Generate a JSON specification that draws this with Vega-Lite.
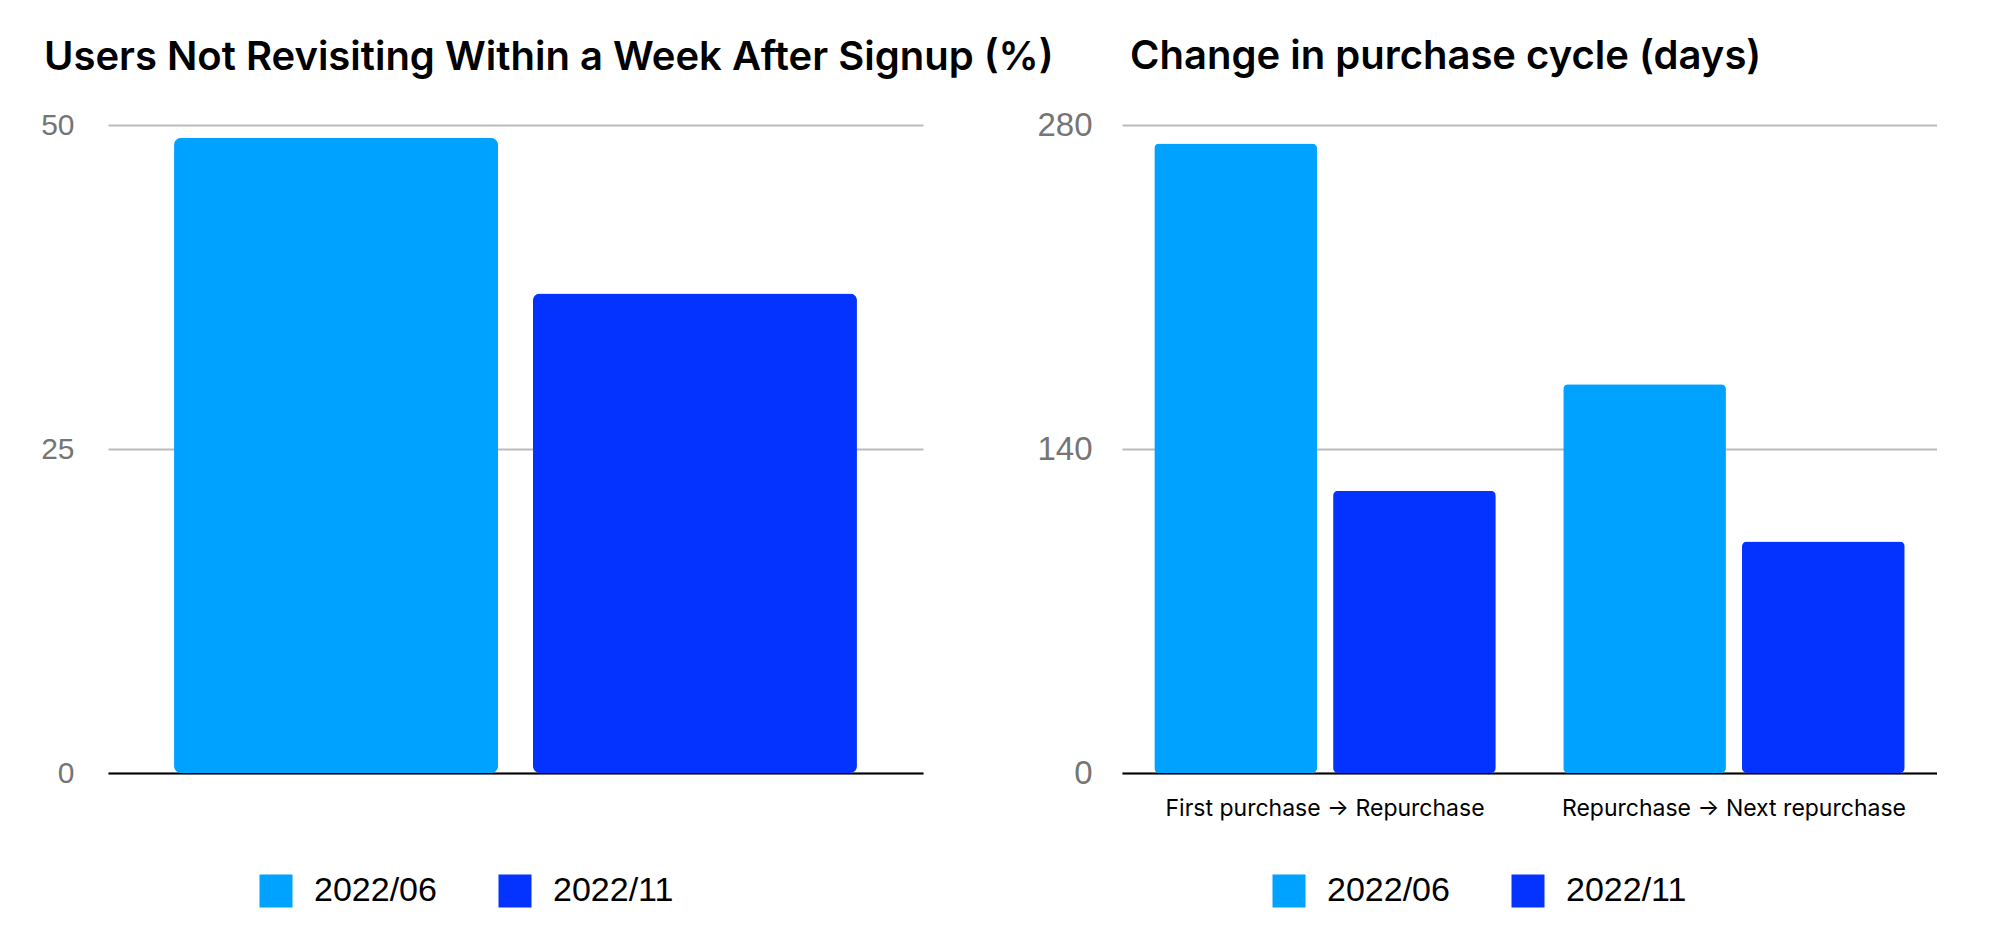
{
  "$schema": "https://vega.github.io/schema/vega-lite/v6.json",
  "background": "white",
  "padding": {"left": 40, "top": 37, "right": 0, "bottom": 0},
  "bounds": "flush",
  "spacing": 199,
  "config": {
    "view": {"stroke": null},
    "axisY": {"domain": false, "ticks": false, "tickSize": 0, "gridColor": "#BBBBBB", "gridWidth": 2, "labelFont": "Liberation Sans", "labelColor": "#757575", "title": null},
    "axisX": {"ticks": false, "tickSize": 0, "domainColor": "#000000", "domainWidth": 2, "grid": false, "title": null, "zindex": 1},
    "legend": {"orient": "none", "direction": "horizontal", "title": null, "symbolType": "square", "symbolSize": 1089, "symbolStrokeWidth": 0, "labelFont": "Liberation Sans", "labelFontSize": 34, "labelColor": "#000000", "labelOffset": 21, "columnPadding": 61, "padding": 0, "labelLimit": 400},
    "title": {"anchor": "start", "frame": "group", "font": "Inter", "fontSize": 40, "fontWeight": 600, "color": "#000000", "baseline": "alphabetic", "offset": 32}
  },
  "datasets": {
    "retention": [
      {"period": "2022/06", "value": 49},
      {"period": "2022/11", "value": 37}
    ],
    "cycle": [
      {"stage": "First purchase → Repurchase", "period": "2022/06", "days": 272},
      {"stage": "First purchase → Repurchase", "period": "2022/11", "days": 122},
      {"stage": "Repurchase → Next repurchase", "period": "2022/06", "days": 168},
      {"stage": "Repurchase → Next repurchase", "period": "2022/11", "days": 100}
    ]
  },
  "resolve": {"scale": {"color": "independent"}, "legend": {"color": "independent"}},
  "hconcat": [
    {
      "data": {"name": "retention"},
      "width": 815,
      "height": 648,
      "title": {"text": "Users Not Revisiting Within a Week After Signup (%)", "dx": -64},
      "mark": {"type": "bar", "cornerRadius": 7},
      "encoding": {
        "x": {"field": "period", "type": "nominal", "scale": {"paddingInner": 0.0975, "paddingOuter": 0.184}, "axis": {"labels": false}},
        "y": {"field": "value", "type": "quantitative", "scale": {"domain": [0, 50]}, "axis": {"values": [0, 25, 50], "labelFontSize": 30, "labelPadding": 34}},
        "color": {"field": "period", "type": "nominal", "scale": {"range": ["#00A2FF", "#0433FF"]}, "legend": {"legendX": 151, "legendY": 749}}
      }
    },
    {
      "data": {"name": "cycle"},
      "width": 815,
      "height": 648,
      "title": {"text": "Change in purchase cycle (days)", "dx": 8},
      "mark": {"type": "bar", "cornerRadius": 5},
      "encoding": {
        "x": {"field": "stage", "type": "nominal", "sort": null, "scale": {"paddingInner": 0.165, "paddingOuter": 0.079}, "axis": {"labelAngle": 0, "labelFont": "Inter", "labelFontSize": 23, "labelColor": "#000000", "labelPadding": 24, "labelLimit": 500}},
        "xOffset": {"field": "period", "type": "nominal", "scale": {"paddingInner": 0.09, "paddingOuter": 0}},
        "y": {"field": "days", "type": "quantitative", "scale": {"domain": [0, 280]}, "axis": {"values": [0, 140, 280], "labelFontSize": 33, "labelPadding": 30}},
        "color": {"field": "period", "type": "nominal", "scale": {"range": ["#00A2FF", "#0433FF"]}, "legend": {"legendX": 150, "legendY": 749}}
      }
    }
  ]
}
